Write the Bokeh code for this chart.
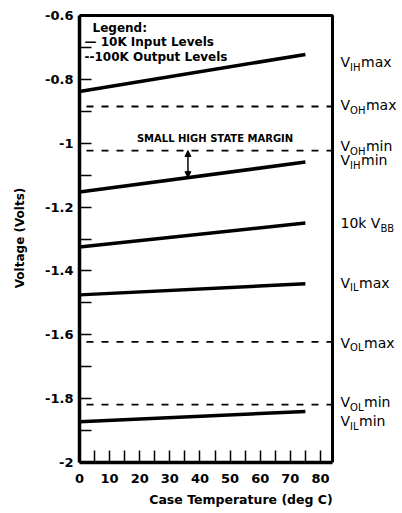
import numpy as np
from bokeh.plotting import figure
from bokeh.models import Range1d, FixedTicker, Label, Arrow, NormalHead
from bokeh.embed import file_html
from bokeh.resources import INLINE

# ---- data ----
temps = [0, 75]                      # deg C, endpoints of the input-level lines
vih_max = [-0.838, -0.722]
vih_min = [-1.153, -1.059]
vbb_10k = [-1.325, -1.250]
vil_max = [-1.475, -1.440]
vil_min = [-1.872, -1.840]

voh_max = -0.885                     # 100K output levels (flat)
voh_min = -1.023
vol_max = -1.622
vol_min = -1.819

margin_temp = 36                     # where the "small high state margin" arrow sits

x_lo, x_hi = 0, 84                   # plotted temperature span
y_lo, y_hi = -2.0, -0.6              # plotted voltage span

x_ticks = [0, 10, 20, 30, 40, 50, 60, 70, 80]
x_minor = [5, 15, 25, 35, 45, 55, 65, 75]
y_ticks = [-2.0, -1.8, -1.6, -1.4, -1.2, -1.0, -0.8, -0.6]
y_tick_labels = ["-2", "-1.8", "-1.6", "-1.4", "-1.2", "-1", "-0.8", "-0.6"]
y_minor = [-1.9, -1.7, -1.5, -1.3, -1.1, -0.9, -0.7]

right_labels = [("V", "IH", "max"), ("V", "OH", "max"), ("V", "OH", "min"),
                ("V", "IH", "min"), ("10k V", "BB", ""), ("V", "IL", "max"),
                ("V", "OL", "max"), ("V", "OL", "min"), ("V", "IL", "min")]
right_anchor = [vih_max[-1], voh_max, voh_min, vih_min[-1], vbb_10k[-1],
                vil_max[-1], vol_max, vol_min, vil_min[-1]]
right_shift_px = [8, -1, -4.5, -2, 0, -1, 1, -2.5, 10]   # downward pixel nudges

legend_lines = ["Legend:", "\u2014 10K Input Levels", "--100K Output Levels"]

# ---- layout ----
W_FIG, H_FIG = 402, 513
LEFT, TOP, BOTTOM = 79, 13, 51
FRAME_W_PLOT = 253                   # pixel width of the 0..84 plot box
FRAME_H_PLOT = 447                   # pixel height of the -2..-0.6 plot box
x_view_hi = x_hi * (W_FIG - LEFT) / FRAME_W_PLOT   # extra room on the right for level labels
y_view_hi = y_hi + 2 * (y_hi - y_lo) / FRAME_H_PLOT  # 2px of headroom so the top border is whole

p = figure(width=W_FIG, height=H_FIG, x_range=Range1d(x_lo, x_view_hi),
           y_range=Range1d(y_lo, y_view_hi),
           output_backend="svg", toolbar_location=None,
           min_border_top=TOP, min_border_left=LEFT, min_border_right=0, min_border_bottom=BOTTOM,
           background_fill_color="white", border_fill_color="white")
p.grid.visible = False
p.outline_line_color = None

bold = "DejaVu Sans"

xa = p.xaxis[0]
xa.bounds = (x_lo, x_hi)
xa.ticker = FixedTicker(ticks=x_ticks, minor_ticks=x_minor)
xa.axis_line_width = 3.5
xa.major_tick_in = 12
xa.major_tick_out = 0
xa.minor_tick_in = 12
xa.minor_tick_out = 0
xa.major_tick_line_width = 1.5
xa.minor_tick_line_width = 1.5
xa.major_label_standoff = 11
xa.major_label_text_font = bold
xa.major_label_text_font_style = "bold"
xa.major_label_text_font_size = "13px"
xa.major_label_text_color = "black"
xa.axis_label = "Case Temperature (deg C)"
xa.axis_label_text_font = bold
xa.axis_label_text_font_style = "bold"
xa.axis_label_text_font_size = "12.5px"
xa.axis_label_standoff = 6
xa.axis_label_text_color = "black"

ya = p.yaxis[0]
ya.bounds = (y_lo, y_hi)
ya.ticker = FixedTicker(ticks=y_ticks, minor_ticks=y_minor)
ya.major_label_overrides = {t: s for t, s in zip(y_ticks, y_tick_labels)}
ya.axis_line_width = 3.5
ya.major_tick_in = 12
ya.major_tick_out = 0
ya.minor_tick_in = 12
ya.minor_tick_out = 0
ya.major_tick_line_width = 1.5
ya.minor_tick_line_width = 1.5
ya.major_label_standoff = 6
ya.major_label_text_font = bold
ya.major_label_text_font_style = "bold"
ya.major_label_text_font_size = "13px"
ya.major_label_text_color = "black"
ya.axis_label = "Voltage (Volts)"
ya.axis_label_text_font = bold
ya.axis_label_text_font_style = "bold"
ya.axis_label_text_font_size = "12px"
ya.axis_label_standoff = 15
ya.axis_label_text_color = "black"

# plot box outline (only around the 0..84 region)
p.quad(left=[x_lo], right=[x_hi], bottom=[y_lo], top=[y_hi],
       fill_color=None, line_color="black", line_width=3)

# 10K input levels: solid thick lines
for series in (vih_max, vih_min, vbb_10k, vil_max, vil_min):
    p.line(temps, series, line_color="black", line_width=3.5)

# 100K output levels: dashed lines across the plot box
levels = [voh_max, voh_min, vol_max, vol_min]
p.segment(x0=[x_lo] * len(levels), y0=levels, x1=[x_hi] * len(levels), y1=levels,
          line_color="black", line_width=1.8, line_dash="7 8", line_dash_offset=-7)

# margin arrow
vih_min_at = float(np.interp(margin_temp, temps, vih_min))
p.add_layout(Arrow(start=NormalHead(size=6, fill_color="black", line_color="black"),
                   end=NormalHead(size=6, fill_color="black", line_color="black"),
                   x_start=margin_temp, y_start=voh_min, x_end=margin_temp, y_end=vih_min_at,
                   line_color="black", line_width=1.5))
p.add_layout(Label(x=45, y=voh_min, y_offset=12, text="SMALL HIGH STATE MARGIN",
                   text_align="center", text_baseline="middle", text_font=bold,
                   text_font_style="bold", text_font_size="10px", text_color="black"))

# legend text block
for i, t in enumerate(legend_lines):
    p.add_layout(Label(x=x_lo, y=y_hi, x_offset=5 if i else 13, y_offset=-(12 + 14.5 * i),
                       text=t, text_align="left", text_baseline="middle", text_font=bold,
                       text_font_style="bold", text_font_size="12px", text_color="black"))

# right-hand level labels with subscripts
W = {"V": .684, "I": .295, "H": .752, "O": .787, "L": .557, "B": .686, "m": .974,
     "a": .613, "x": .592, "i": .278, "n": .634, "1": .636, "0": .636, "k": .579, " ": .318}
def tw(s, size):
    return sum(W[c] for c in s) * size

MAIN, SUB = 14, 10
for (main, sub, tail), anc, dy in zip(right_labels, right_anchor, right_shift_px):
    x0 = 8
    common = dict(x=x_hi, y=anc, text_align="left", text_baseline="middle",
                  text_font="DejaVu Sans", text_color="black")
    p.add_layout(Label(x_offset=x0, y_offset=-dy, text=main,
                       text_font_size=f"{MAIN}px", **common))
    x1 = x0 + tw(main, MAIN)
    p.add_layout(Label(x_offset=x1, y_offset=-dy - 5, text=sub,
                       text_font_size=f"{SUB}px", **common))
    x2 = x1 + tw(sub, SUB) + 0.5
    if tail:
        p.add_layout(Label(x_offset=x2, y_offset=-dy, text=tail,
                           text_font_size=f"{MAIN}px", **common))

open("out.html", "w").write(file_html(p, INLINE))
